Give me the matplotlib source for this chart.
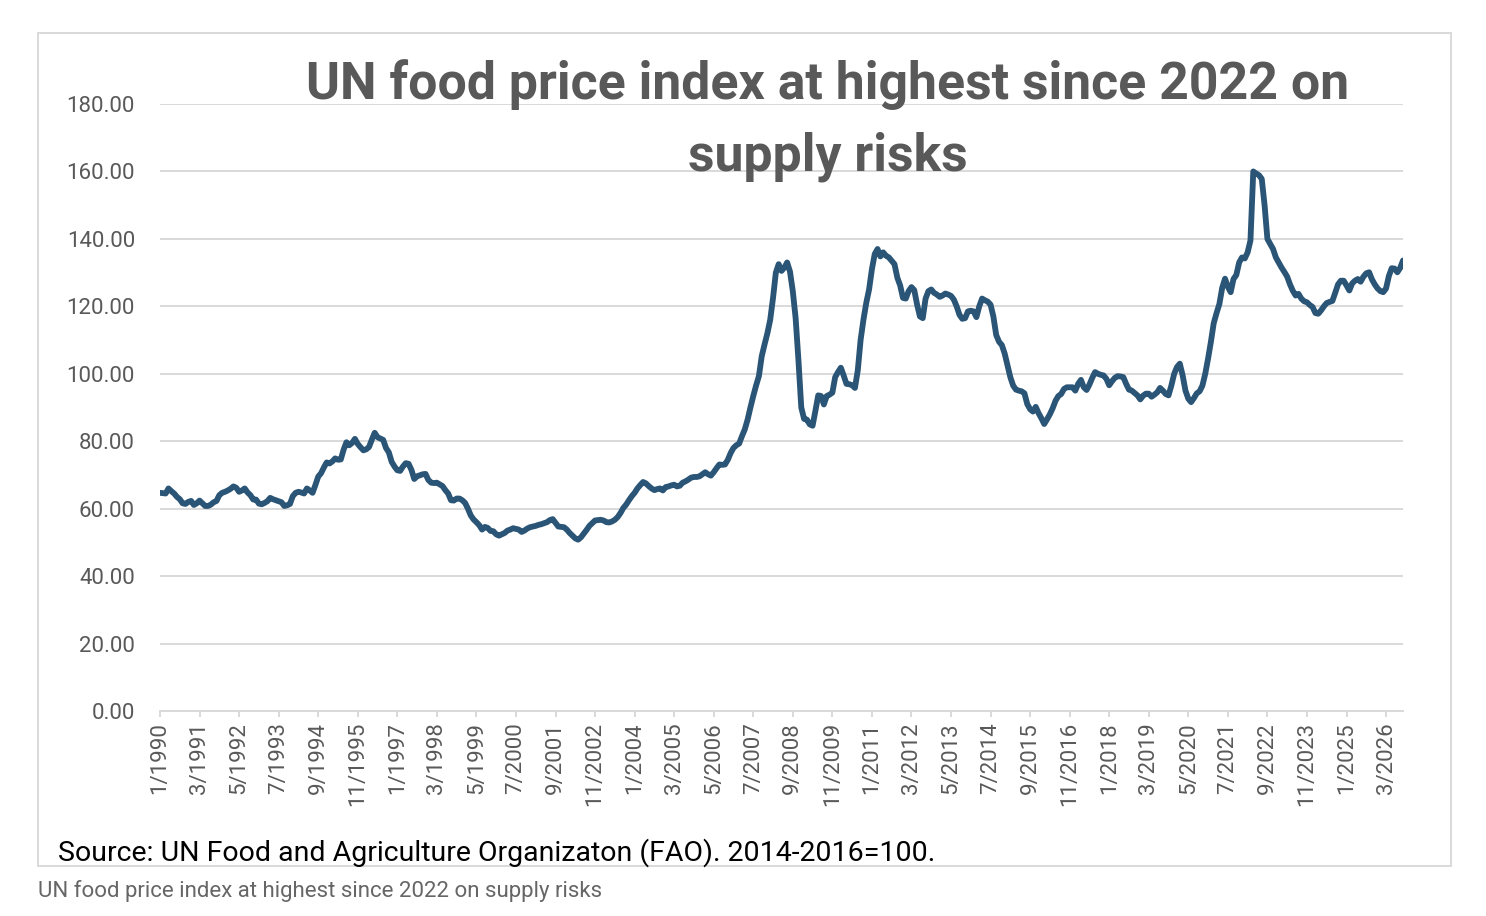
import numpy as np
import pandas as pd
import matplotlib
matplotlib.use("Agg")
import matplotlib.pyplot as plt
from matplotlib.patches import Rectangle

# FAO food price index, monthly, 2014-2016=100
start_month = "1990-01"
index_values = [
    64.7, 64.6, 64.5, 66.0, 65.2, 64.5, 63.5, 62.8, 61.6, 61.4, 62.0, 62.3,  # 1990
    61.1, 61.6, 62.4, 61.6, 60.8, 60.8, 61.2, 61.9, 62.3, 64.0, 64.7, 65.0,  # 1991
    65.4, 65.9, 66.6, 66.2, 65.0, 65.4, 66.0, 64.8, 64.0, 62.7, 62.7, 61.5,  # 1992
    61.3, 61.7, 62.2, 63.2, 62.8, 62.5, 62.2, 61.9, 60.8, 61.0, 61.4, 63.7,  # 1993
    64.7, 65.0, 64.8, 64.5, 66.0, 65.4, 64.7, 67.0, 69.5, 70.5, 72.2, 73.7,  # 1994
    73.4, 74.0, 74.9, 74.5, 74.6, 77.5, 79.7, 78.8, 79.5, 80.7, 79.2, 78.2,  # 1995
    77.3, 77.6, 78.3, 80.5, 82.5, 81.2, 80.8, 80.4, 78.0, 76.7, 73.9, 72.5,  # 1996
    71.4, 71.2, 72.5, 73.5, 73.3, 71.5, 68.8, 69.6, 69.9, 70.2, 70.3, 68.5,  # 1997
    67.7, 67.6, 67.7, 67.2, 66.7, 65.5, 64.5, 62.5, 62.4, 63.0, 63.0, 62.5,  # 1998
    61.7, 60.0, 58.0, 56.8, 56.0, 55.1, 53.8, 54.6, 54.3, 53.4, 53.3, 52.4,  # 1999
    52.0, 52.4, 52.8, 53.5, 53.8, 54.2, 54.0, 53.8, 53.1, 53.5, 54.1, 54.5,  # 2000
    54.7, 54.9, 55.2, 55.4, 55.7, 56.0, 56.6, 56.9, 55.8, 54.7, 54.6, 54.5,  # 2001
    53.8, 52.8, 52.0, 51.2, 50.8, 51.5, 52.6, 53.7, 54.9, 55.7, 56.5, 56.6,  # 2002
    56.7, 56.5, 56.0, 55.9, 56.2, 56.7, 57.5, 58.7, 60.2, 61.2, 62.5, 63.7,  # 2003
    64.7, 66.0, 67.0, 67.9, 67.5, 66.7, 66.0, 65.5, 65.8, 66.0, 65.4, 66.4,  # 2004
    66.6, 66.9, 67.1, 66.6, 66.8, 67.7, 68.1, 68.6, 69.2, 69.4, 69.4, 69.6,  # 2005
    70.2, 70.8, 70.2, 69.8, 70.8, 72.0, 73.1, 73.0, 73.1, 74.5, 76.5, 78.0,  # 2006
    78.8, 79.3, 81.5, 83.5, 86.4, 90.0, 93.4, 96.5, 99.3, 105.2, 108.7, 112.0,  # 2007
    116.0, 122.5, 130.0, 132.5, 130.5, 131.5, 133.0, 130.3, 124.5, 116.5, 104.0, 90.0,  # 2008
    86.6, 86.4, 85.0, 84.6, 89.0, 93.6, 93.4, 90.9, 93.4, 93.8, 94.4, 99.0,  # 2009
    100.5, 101.8, 99.5, 97.0, 96.9, 96.6, 95.8, 101.0, 110.0, 116.0, 121.0, 125.0,  # 2010
    131.0, 135.5, 137.0, 134.8, 136.0, 135.0, 134.5, 133.5, 132.5, 128.5, 126.2, 122.5,  # 2011
    122.3, 124.5, 125.7, 124.8, 120.5, 117.0, 116.5, 122.3, 124.5, 125.0, 124.0, 123.5,  # 2012
    122.8, 123.2, 123.8, 123.5, 123.1, 122.0, 120.0, 117.5, 116.3, 116.5, 118.5, 118.7,  # 2013
    118.5, 116.8, 120.0, 122.3, 121.8, 121.4, 120.5, 117.0, 111.5, 109.5, 108.5, 106.0,  # 2014
    102.5, 99.0, 96.5, 95.3, 95.0, 94.8, 94.2, 91.0, 89.5, 88.8, 90.2, 88.3,  # 2015
    86.8, 85.1, 86.5, 88.0, 89.8, 92.0, 93.4, 94.0, 95.5, 96.0, 96.0, 96.0,  # 2016
    95.0, 97.0, 98.2, 96.0, 95.2, 96.8, 98.8, 100.5, 100.0, 99.7, 99.5, 98.5,  # 2017
    96.6, 97.8, 98.8, 99.3, 99.2, 99.0, 97.0, 95.3, 95.0, 94.3, 93.6, 92.4,  # 2018
    93.5, 94.1, 94.1, 93.2, 93.8, 94.5, 95.8, 95.0, 94.0, 93.6, 96.5, 100.0,  # 2019
    102.0, 103.0, 99.5, 95.0, 92.6, 91.6, 92.8, 94.2, 94.8, 96.5, 100.0, 104.5,  # 2020
    109.5, 115.0, 118.0, 120.7, 125.5, 128.2, 125.8, 124.2, 128.1, 129.3, 133.0, 134.5,  # 2021
    134.2, 136.0, 139.5, 160.0, 159.4, 158.9, 157.8, 150.0, 140.0, 138.5, 137.0, 134.5,  # 2022
    133.0, 131.5, 130.2, 128.8, 126.5, 124.6, 123.2, 123.7, 122.3, 121.5, 121.2, 120.4,  # 2023
    119.8, 118.0, 117.8, 118.8, 120.0, 121.0, 121.3, 121.6, 124.0, 126.5, 127.6, 127.6,  # 2024
    126.2, 124.7, 126.8, 127.6, 128.1, 127.3, 128.8, 129.8, 130.1, 128.0, 126.5, 125.3,  # 2025
    124.5, 124.2, 125.3, 129.0, 131.3, 131.2, 130.1, 131.4, 133.6,  # 2026
]
tick_labels = [
    "1/1990", "3/1991", "5/1992", "7/1993", "9/1994", "11/1995", "1/1997",
    "3/1998", "5/1999", "7/2000", "9/2001", "11/2002", "1/2004", "3/2005",
    "5/2006", "7/2007", "9/2008", "11/2009", "1/2011", "3/2012", "5/2013",
    "7/2014", "9/2015", "11/2016", "1/2018", "3/2019", "5/2020", "7/2021",
    "9/2022", "11/2023", "1/2025", "3/2026",
]
y_ticks = [0, 20, 40, 60, 80, 100, 120, 140, 160, 180]

title = "UN food price index at highest since 2022 on\nsupply risks"
source = "Source: UN Food and Agriculture Organizaton (FAO). 2014-2016=100."
caption = "UN food price index at highest since 2022 on supply risks"

plt.rcParams["font.family"] = ["Roboto", "DejaVu Sans"]

months = pd.period_range(start_month, periods=len(index_values), freq="M")
labels_all = [f"{p.month}/{p.year}" for p in months]
pos = np.arange(len(index_values))
tick_pos = [labels_all.index(t) for t in tick_labels]

W, H = 1486, 916
fig = plt.figure(figsize=(W / 100, H / 100), dpi=100)
ax = fig.add_axes([160 / W, 1 - 711 / H, (1403 - 160) / W, (711 - 104) / H])

grid_c = "#d9d9d9"
text_c = "#595959"

ax.plot(pos, index_values, color="#2b5576", lw=4.2, solid_joinstyle="round",
        solid_capstyle="round", zorder=3)

ax.set_xlim(0, len(index_values) - 1)
ax.set_ylim(0, 180)
ax.set_yticks(y_ticks)
ax.set_yticklabels([f"{v:.2f}" for v in y_ticks])
ax.set_xticks(tick_pos)
ax.set_xticklabels(tick_labels, rotation=90)

ax.grid(axis="y", color=grid_c, lw=1.4, zorder=0)
for s in ["top", "right", "left"]:
    ax.spines[s].set_visible(False)
ax.spines["bottom"].set_color(grid_c)
ax.spines["bottom"].set_linewidth(1.4)
ax.tick_params(axis="y", length=0, pad=18, labelsize=16, labelcolor=text_c)
ax.tick_params(axis="x", direction="out", length=4, width=1.4, color=grid_c,
               pad=4, labelsize=16, labelcolor=text_c)

# outer chart frame
fig.patches.append(Rectangle((38 / W, 1 - 866 / H), (1451 - 38) / W, (866 - 33) / H,
                             transform=fig.transFigure, fill=False,
                             edgecolor=grid_c, lw=1.4))

fig.text(828 / W, 1 - 121 / H, title, ha="center", va="center", fontsize=37.3,
         fontweight="bold", color=text_c, linespacing=1.55)
fig.text(58 / W, 1 - 853 / H, source, ha="left", va="center", fontsize=20.5,
         color="black")
fig.text(38 / W, 1 - 891 / H, caption, ha="left", va="center", fontsize=16,
         color="#666666")

fig.savefig("out.png", dpi=100)
